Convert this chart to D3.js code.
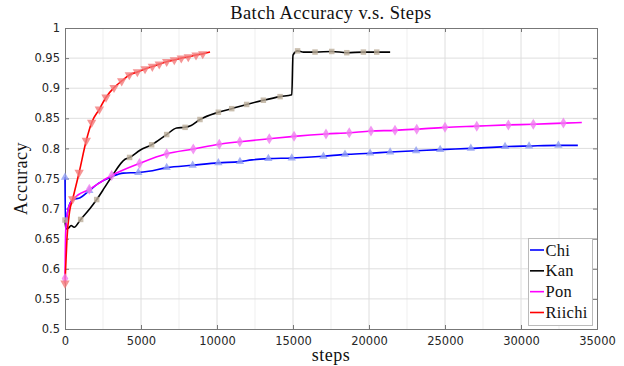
<!DOCTYPE html>
<html><head><meta charset="utf-8">
<script src="https://cdn.jsdelivr.net/npm/d3@7"></script>
<style>body{margin:0;background:#fff}svg{display:block}</style>
</head><body><svg id="c" width="624" height="366"></svg>
<script>
const xTicks = [0,5000,10000,15000,20000,25000,30000,35000];
const yTicks = [0.5,0.55,0.6,0.65,0.7,0.75,0.8,0.85,0.9,0.95,1];
const seriesNames = ["Chi","Kan","Pon","Riichi"];

const chiSteps = [0,30,150,330,550,1000,1600,2200,3070,3830,4825,5500,6690,8400,10090,11510,12300,13380,14920,17000,18420,20070,21390,23100,24680,26700,28950,30530,32460,33740];
const chiAcc   = [0.752,0.667,0.692,0.709,0.715,0.718,0.730,0.742,0.753,0.759,0.760,0.762,0.768,0.772,0.776,0.778,0.781,0.783,0.784,0.787,0.790,0.792,0.794,0.796,0.798,0.800,0.803,0.804,0.805,0.805];
const chiMarks = [0,6,10,12,13,14,15,17,18,19,20,21,22,23,24,25,26,27,28];

const kanSteps = [0,60,250,400,600,1030,1645,2085,2632,3070,3950,4250,4935,5700,6690,7350,7900,8300,8880,10090,10970,11950,13050,14150,14920,15000,15300,15700,16450,17550,18540,19630,20510,21390];
const kanAcc   = [0.681,0.666,0.668,0.672,0.669,0.682,0.700,0.715,0.736,0.753,0.782,0.785,0.797,0.806,0.823,0.834,0.835,0.838,0.848,0.860,0.866,0.873,0.880,0.886,0.889,0.955,0.962,0.960,0.960,0.961,0.959,0.960,0.960,0.960];
const kanMarks = [0,5,7,11,13,14,16,18,19,20,21,22,23,26,28,29,30,31,32];

const ponSteps = [0,20,60,250,600,1600,3070,4900,6690,8440,10150,11500,13440,15070,17170,18700,20130,21710,23140,25000,27090,29170,30810,32790,34000];
const ponAcc   = [0.584,0.630,0.670,0.703,0.717,0.732,0.755,0.775,0.791,0.799,0.807,0.811,0.816,0.820,0.824,0.826,0.829,0.830,0.832,0.835,0.837,0.839,0.840,0.842,0.843];
const ponMarks = [0,5,6,7,8,9,10,11,12,13,14,15,16,17,18,19,20,21,22,23];

const riichiSteps = [0,50,130,300,505,930,1400,1755,2260,2700,3225,3730,4230,4760,5265,5745,6200,6690,7190,7650,8110,8620,9060,9540];
const riichiAcc   = [0.576,0.605,0.650,0.695,0.716,0.760,0.813,0.843,0.865,0.885,0.901,0.912,0.922,0.927,0.932,0.936,0.940,0.944,0.947,0.950,0.952,0.955,0.957,0.960];
const riichiMarks = [0,4,5,6,7,8,9,10,11,12,13,14,15,16,17,18,19,20,21,22];

const svg = d3.select("#c");
const L=65, R=597, T=28, B=329;
const x = d3.scaleLinear().domain([0,35000]).range([L,R]);
const y = d3.scaleLinear().domain([0.5,1]).range([B,T]);

// grid
const g = svg.append("g");
const minorX = d3.range(2500,35000,5000);
g.selectAll(".mx").data(minorX).join("line")
  .attr("x1",d=>x(d)).attr("x2",d=>x(d)).attr("y1",T).attr("y2",B)
  .attr("stroke","#efefef").attr("stroke-width",1);
g.selectAll(".gx").data(xTicks.slice(1,-1)).join("line")
  .attr("x1",d=>x(d)).attr("x2",d=>x(d)).attr("y1",T).attr("y2",B)
  .attr("stroke","#dedede").attr("stroke-width",1);
g.selectAll(".gy").data(yTicks.slice(1,-1)).join("line")
  .attr("x1",L).attr("x2",R).attr("y1",d=>y(d)).attr("y2",d=>y(d))
  .attr("stroke","#dedede").attr("stroke-width",1);

// axes
const axCol="#777";
svg.append("g").attr("transform",`translate(0,${B})`)
  .call(d3.axisBottom(x).tickValues(xTicks).tickSize(-4).tickPadding(8).tickFormat(d3.format("d")));
svg.append("g").attr("transform",`translate(${L},0)`)
  .call(d3.axisLeft(y).tickValues(yTicks).tickSize(-4).tickPadding(5).tickFormat(d=>String(+d.toFixed(2))));
svg.append("g").attr("transform",`translate(0,${T})`)
  .call(d3.axisTop(x).tickValues(xTicks).tickSize(-4).tickFormat(""));
svg.append("g").attr("transform",`translate(${R},0)`)
  .call(d3.axisRight(y).tickValues(yTicks).tickSize(-4).tickFormat(""));
svg.selectAll(".domain, .tick line").attr("stroke",axCol);
svg.selectAll(".tick text").attr("fill","#262626").style("font-family","'DejaVu Sans', sans-serif").style("font-size","11.5px");

// series
const series = [
  {name:"Chi", s:chiSteps, a:chiAcc, m:chiMarks, col:"#0000ff", mk:"#8f9cf2", shape:"tri"},
  {name:"Kan", s:kanSteps, a:kanAcc, m:kanMarks, col:"#000000", mk:"#bcae9a", shape:"sq"},
  {name:"Pon", s:ponSteps, a:ponAcc, m:ponMarks, col:"#ff00ff", mk:"#f07cf0", shape:"dia"},
  {name:"Riichi", s:riichiSteps, a:riichiAcc, m:riichiMarks, col:"#ff0000", mk:"#f27a7a", shape:"tridown"}
];
const line = d3.line().x(d=>x(d[0])).y(d=>y(d[1])).curve(d3.curveMonotoneX);
const shapes = {
  tri: d3.symbol().type(d3.symbolTriangle).size(30)(),
  tridown: d3.symbol().type(d3.symbolTriangle).size(38)(),
  sq: d3.symbol().type(d3.symbolSquare).size(30)(),
  dia: "M0,-5.5L3.3,0L0,5.5L-3.3,0Z"
};
series.forEach(sr=>{
  const pts = sr.s.map((v,i)=>[v, sr.a[i]]);
  svg.append("path").datum(pts).attr("d",line)
    .attr("fill","none").attr("stroke",sr.col).attr("stroke-width",1.6);
});
series.forEach(sr=>{
  const pts = sr.m.map(i=>[sr.s[i], sr.a[i]]);
  svg.append("g").selectAll("path").data(pts).join("path")
    .attr("d",shapes[sr.shape])
    .attr("transform",d=>`translate(${x(d[0])},${y(d[1])})${sr.shape==="tridown"?" rotate(180)":""}`)
    .attr("fill",sr.mk).attr("fill-opacity",0.8);
});

// title & labels
const serif="'Liberation Serif','Times New Roman',serif";
svg.append("text").attr("x",(L+R)/2).attr("y",19).attr("text-anchor","middle")
  .style("font-family",serif).style("font-size","18.5px").style("letter-spacing","0.4px")
  .attr("fill","#111").text("Batch Accuracy v.s. Steps");
svg.append("text").attr("x",(L+R)/2).attr("y",361).attr("text-anchor","middle")
  .style("font-family",serif).style("font-size","18px").style("letter-spacing","0.5px")
  .attr("fill","#111").text("steps");
svg.append("text").attr("transform",`translate(27,${(T+B)/2}) rotate(-90)`).attr("text-anchor","middle")
  .style("font-family",serif).style("font-size","18px").style("letter-spacing","0.5px")
  .attr("fill","#111").text("Accuracy");

// legend
const lg = svg.append("g");
lg.append("rect").attr("x",528.5).attr("y",238.5).attr("width",64).attr("height",87)
  .attr("fill","#fff").attr("stroke","#bbb").attr("stroke-width",1);
const ly = d3.scalePoint().domain(seriesNames).range([250,312.5]);
series.forEach(sr=>{
  lg.append("line").attr("x1",530).attr("x2",544).attr("y1",ly(sr.name)).attr("y2",ly(sr.name))
    .attr("stroke",sr.col).attr("stroke-width",1.6);
  lg.append("text").attr("x",545.5).attr("y",ly(sr.name)+5.5).style("font-family",serif)
    .style("font-size","16.5px").style("letter-spacing","0.3px").attr("fill","#111").text(sr.name);
});
</script></body></html>
